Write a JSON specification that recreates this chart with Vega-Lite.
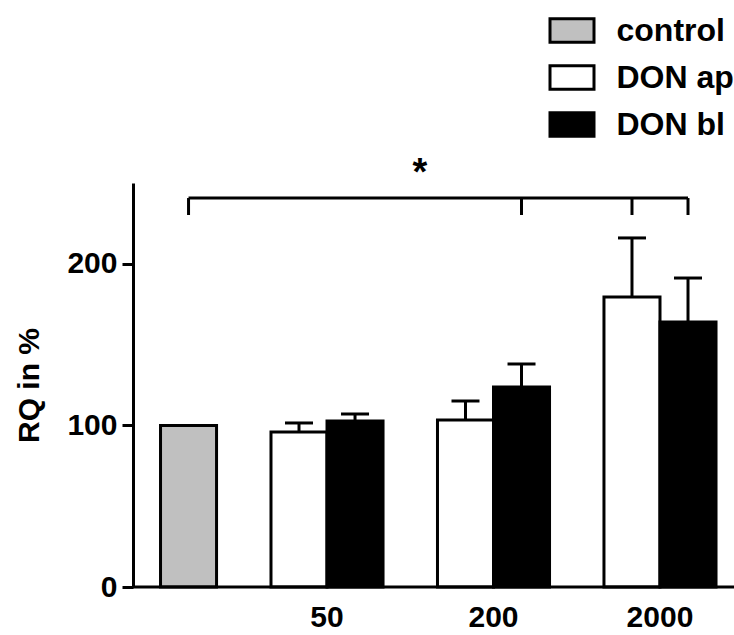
{
  "$schema": "https://vega.github.io/schema/vega-lite/v6.json",
  "autosize": {"type": "none"},
  "width": 629.5,
  "height": 404,
  "padding": {"left": 104.5, "top": 183, "right": 0, "bottom": 48},
  "config": {
    "view": {"stroke": null},
    "font": "Liberation Sans",
    "axis": {"grid": false}
  },
  "datasets": {
    "bars": [
      {"dose": "ctrl", "series": "control", "mean": 100},
      {"dose": "50", "series": "DON ap", "mean": 95.9, "upper": 101.5},
      {"dose": "50", "series": "DON bl", "mean": 102.7, "upper": 107},
      {"dose": "200", "series": "DON ap", "mean": 103.3, "upper": 115.1},
      {"dose": "200", "series": "DON bl", "mean": 123.8, "upper": 138},
      {"dose": "2000", "series": "DON ap", "mean": 179.5, "upper": 216},
      {"dose": "2000", "series": "DON bl", "mean": 164, "upper": 191.2}
    ],
    "sig": [
      {"dose": "ctrl", "series": "DON bl"},
      {"dose": "200", "series": "DON bl"},
      {"dose": "2000", "series": "DON ap"},
      {"dose": "2000", "series": "DON bl"}
    ]
  },
  "layer": [
    {
      "data": {"name": "bars"},
      "transform": [{"filter": "datum.series != 'control'"}],
      "mark": {"type": "bar", "stroke": "black", "strokeWidth": 3},
      "encoding": {
        "x": {
          "field": "dose", "type": "nominal",
          "scale": {"domain": ["ctrl", "50", "200", "2000"], "paddingInner": 0.327, "paddingOuter": 0.054, "align": 0},
          "axis": {
            "title": null, "domain": false, "ticks": false, "tickSize": 0,
            "labelFontSize": 30, "labelFontWeight": "bold", "labelColor": "black",
            "labelPadding": 15, "labelAngle": 0,
            "labelExpr": "datum.value == 'ctrl' ? '' : datum.value"
          }
        },
        "xOffset": {"field": "series", "type": "nominal", "scale": {"domain": ["DON ap", "DON bl"]}},
        "y": {
          "field": "mean", "type": "quantitative",
          "scale": {"domain": [0, 250], "nice": false},
          "axis": {
            "title": "RQ in %", "values": [0, 100, 200], "offset": -28.5,
            "domainColor": "black", "domainWidth": 3,
            "tickColor": "black", "tickWidth": 3, "tickSize": 11,
            "labelFontSize": 30, "labelFontWeight": "bold", "labelColor": "black",
            "labelPadding": 5, "labelFlush": false,
            "titleFontSize": 30, "titleFontWeight": "bold", "titleColor": "black",
            "titlePadding": 22
          }
        },
        "fill": {
          "field": "series", "type": "nominal",
          "scale": {"domain": ["control", "DON ap", "DON bl"], "range": ["#c0c0c0", "#ffffff", "#000000"]},
          "legend": {
            "title": null, "orient": "none", "legendX": 444, "legendY": -176,
            "symbolType": "M-1,-0.536H1V0.536H-1Z", "symbolSize": 1936,
            "symbolStrokeColor": "black", "symbolStrokeWidth": 3, "symbolOpacity": 1,
            "labelFontSize": 32, "labelFontWeight": "bold", "labelColor": "black",
            "labelOffset": 21, "rowPadding": 5, "padding": 0, "labelLimit": 0
          }
        }
      }
    },
    {
      "data": {"name": "bars"},
      "transform": [{"filter": "datum.series == 'control'"}],
      "mark": {"type": "bar", "stroke": "black", "strokeWidth": 3},
      "encoding": {
        "x": {"field": "dose", "type": "nominal"},
        "xOffset": {"datum": "DON bl", "type": "nominal"},
        "y": {"field": "mean", "type": "quantitative"},
        "fill": {"field": "series", "type": "nominal"}
      }
    },
    {
      "data": {"name": "bars"},
      "transform": [{"filter": "datum.upper != null"}],
      "mark": {"type": "rule", "color": "black", "strokeWidth": 3},
      "encoding": {
        "x": {"field": "dose", "type": "nominal"},
        "xOffset": {"field": "series", "type": "nominal"},
        "y": {"field": "mean", "type": "quantitative"},
        "y2": {"field": "upper"}
      }
    },
    {
      "data": {"name": "bars"},
      "transform": [{"filter": "datum.upper != null"}],
      "mark": {"type": "tick", "color": "black", "size": 28, "thickness": 3, "orient": "horizontal", "opacity": 1},
      "encoding": {
        "x": {"field": "dose", "type": "nominal"},
        "xOffset": {"field": "series", "type": "nominal"},
        "y": {"field": "upper", "type": "quantitative"}
      }
    },
    {
      "data": {"values": [{}]},
      "mark": {"type": "rule", "color": "black", "strokeWidth": 3},
      "encoding": {
        "x": {"datum": "ctrl", "type": "nominal", "bandPosition": 0.75},
        "x2": {"datum": "2000", "bandPosition": 0.75},
        "y": {"datum": 240.7, "type": "quantitative"}
      }
    },
    {
      "data": {"name": "sig"},
      "mark": {"type": "rule", "color": "black", "strokeWidth": 3},
      "encoding": {
        "x": {"field": "dose", "type": "nominal"},
        "xOffset": {"field": "series", "type": "nominal"},
        "y": {"datum": 240.7, "type": "quantitative"},
        "y2": {"datum": 230.2}
      }
    },
    {
      "data": {"values": [{}]},
      "mark": {"type": "text", "text": "*", "fontSize": 38, "fontWeight": "bold", "color": "black", "baseline": "alphabetic", "align": "center"},
      "encoding": {
        "x": {"datum": "50", "type": "nominal", "bandPosition": 1.33},
        "y": {"datum": 249, "type": "quantitative"}
      }
    },
    {
      "data": {"values": [{}]},
      "mark": {"type": "rule", "color": "black", "strokeWidth": 3},
      "encoding": {
        "x": {"datum": "ctrl", "type": "nominal", "bandPosition": 0.25},
        "x2": {"datum": "2000", "bandPosition": 1.5},
        "y": {"datum": 0, "type": "quantitative"}
      }
    }
  ]
}
